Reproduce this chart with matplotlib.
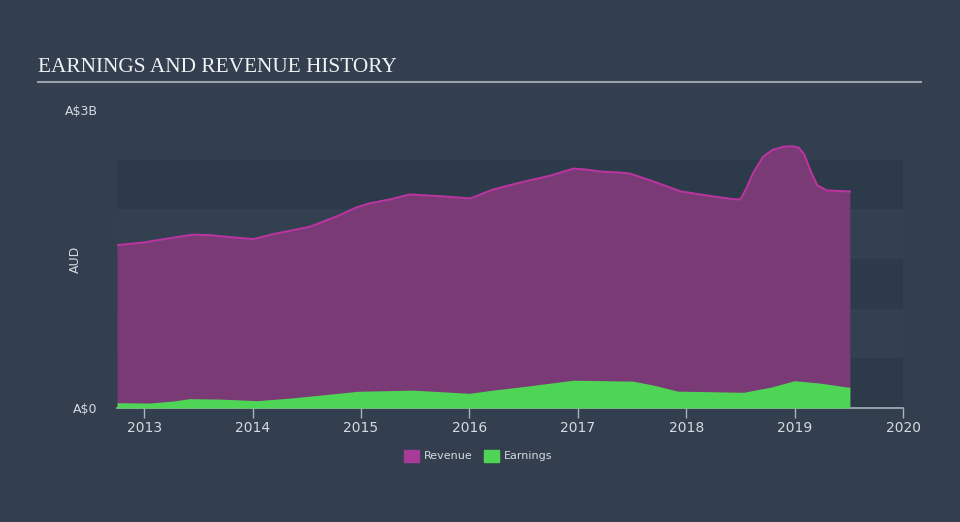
import matplotlib
matplotlib.use("Agg")
from matplotlib import pyplot as plt
from matplotlib.patches import Rectangle

# revenue, A$ billions
rev_t = [2012.75, 2012.99, 2013.27, 2013.45, 2013.61, 2013.79, 2014.01, 2014.19,
         2014.44, 2014.53, 2014.78, 2014.96, 2015.08, 2015.27, 2015.45, 2015.76,
         2016.01, 2016.22, 2016.47, 2016.75, 2016.96, 2017.08, 2017.21, 2017.39,
         2017.48, 2017.7, 2017.95, 2018.25, 2018.45, 2018.5, 2018.55, 2018.62,
         2018.71, 2018.8, 2018.9, 2018.98, 2019.04, 2019.09, 2019.15, 2019.21,
         2019.3, 2019.51]
rev_v = [1.64, 1.665, 1.715, 1.745, 1.74, 1.72, 1.70, 1.75,
         1.805, 1.825, 1.93, 2.02, 2.06, 2.10, 2.15, 2.13,
         2.11, 2.20, 2.27, 2.34, 2.41, 2.40, 2.38, 2.37,
         2.36, 2.28, 2.18, 2.13, 2.10, 2.10, 2.20, 2.37,
         2.53, 2.60, 2.63, 2.635, 2.62, 2.55, 2.38, 2.24,
         2.19, 2.18]

# earnings, A$ billions
earn_t = [2012.75, 2013.05, 2013.27, 2013.42, 2013.70, 2014.04, 2014.35, 2014.72,
          2014.97, 2015.48, 2016.0, 2016.22, 2016.53, 2016.78, 2016.96, 2017.51,
          2017.70, 2017.92, 2018.53, 2018.78, 2019.0, 2019.24, 2019.49, 2019.51]
earn_v = [0.053, 0.05, 0.07, 0.094, 0.09, 0.074, 0.10, 0.14,
          0.168, 0.18, 0.148, 0.18, 0.22, 0.255, 0.28, 0.27,
          0.23, 0.17, 0.158, 0.21, 0.275, 0.25, 0.21, 0.21]

years = [2013, 2014, 2015, 2016, 2017, 2018, 2019, 2020]

bg = "#333f4f"
fig = plt.figure(figsize=(9.6, 5.22), dpi=100, facecolor=bg)
ax = fig.add_axes([117/960, 1-408/522, (903-117)/960, (408-110)/522])
ax.set_facecolor(bg)

# horizontal bands
for lo in [0, 1.0, 2.0]:
    ax.axhspan(lo, lo + 0.5, color="#2d3a49", lw=0, zorder=0)
for lo in [0.5, 1.5]:
    ax.axhspan(lo, lo + 0.5, color="#324050", lw=0, zorder=0)

ax.fill_between(rev_t, 0, rev_v, color="#7a3a75", lw=0, zorder=2)
ax.plot(rev_t, rev_v, color="#b8359f", lw=1.5, zorder=3)
ax.fill_between(earn_t, 0, earn_v, color="#4fd556", lw=0, zorder=4)

ax.set_xlim(2012.75, 2020.0)
ax.set_ylim(0, 3)
for s in ["top", "right", "left"]:
    ax.spines[s].set_visible(False)
ax.spines["bottom"].set_color("#aab2bd")
ax.spines["bottom"].set_linewidth(1.2)
ax.set_xticks(years)
ax.set_xticklabels([str(y) for y in years])
ax.tick_params(axis="x", colors="#aab2bd", length=7, width=1, labelcolor="#d5dae0",
               labelsize=10, pad=2)
ax.set_yticks([0, 3])
ax.set_yticklabels(["A$0", "A$3B"])
ax.tick_params(axis="y", length=0, labelcolor="#d5dae0", labelsize=9, pad=14)
ax.set_ylabel("AUD", color="#d5dae0", fontsize=9)
ax.yaxis.set_label_coords(-0.045, 0.5)

fig.text(38/960, 1-67/522, "EARNINGS AND REVENUE HISTORY", family="Liberation Serif",
         fontsize=15.3, color="#f0f2f4", va="center", ha="left")
fig.add_artist(plt.Line2D([38/960, 921/960], [1-82/522, 1-82/522], color="#9aa1aa",
                          lw=1.5))

# legend
fig.add_artist(Rectangle((404/960, 1-462/522), 15/960, 12/522, color="#a83a98",
                         transform=fig.transFigure))
fig.text(424/960, 1-456/522, "Revenue", color="#d5dae0", fontsize=8, va="center")
fig.add_artist(Rectangle((484/960, 1-462/522), 15/960, 12/522, color="#4fd556",
                         transform=fig.transFigure))
fig.text(504/960, 1-456/522, "Earnings", color="#d5dae0", fontsize=8, va="center")

plt.savefig("out.png", dpi=100, facecolor=bg)
